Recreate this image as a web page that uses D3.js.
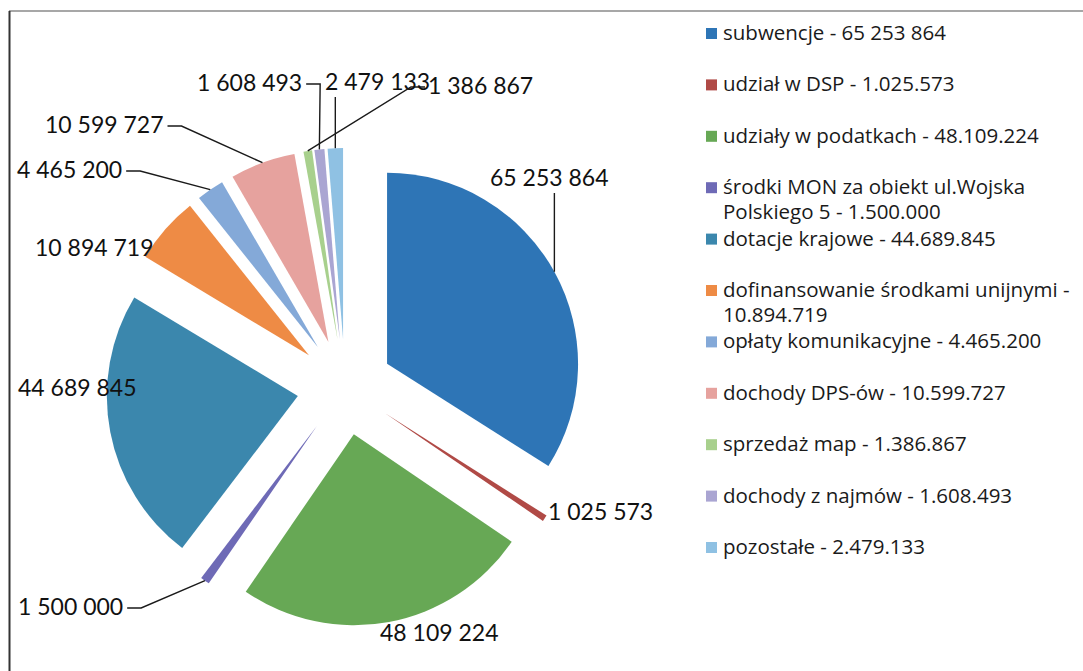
<!DOCTYPE html>
<html>
<head>
<meta charset="utf-8">
<script src="https://cdn.jsdelivr.net/npm/d3@7"></script>
<style>
  body { margin: 0; background: #fff; }
  svg { display: block; }
</style>
</head>
<body>
<svg id="chart"></svg>
<script>
// data
const categories = [
    'subwencje', 'udział w DSP', 'udziały w podatkach', 'środki MON za obiekt ul.Wojska Polskiego 5',
    'dotacje krajowe', 'dofinansowanie środkami unijnymi', 'opłaty komunikacyjne', 'dochody DPS-ów',
    'sprzedaż map', 'dochody z najmów', 'pozostałe'
]
const values = [65253864, 1025573, 48109224, 1500000, 44689845, 10894719, 4465200, 10599727, 1386867, 1608493, 2479133]
// legend entries as printed (line breaks as in the picture)
const legendTexts = [
    ['subwencje - 65 253 864'],
    ['udział w DSP - 1.025.573'],
    ['udziały w podatkach - 48.109.224'],
    ['środki MON za obiekt ul.Wojska', 'Polskiego 5 - 1.500.000'],
    ['dotacje krajowe - 44.689.845'],
    ['dofinansowanie środkami unijnymi -', '10.894.719'],
    ['opłaty komunikacyjne - 4.465.200'],
    ['dochody DPS-ów - 10.599.727'],
    ['sprzedaż map - 1.386.867'],
    ['dochody z najmów - 1.608.493'],
    ['pozostałe - 2.479.133']
]
const colors = ['#2e75b6', '#b04a46', '#67a855', '#6e6ab6', '#3b87ad', '#ee8b45',
    '#84a9d8', '#e6a29e', '#a8d08d', '#aaa5d2', '#8fc1e3']

// where the data labels sit: left x, baseline y, leader attachment
const labelLayout = [
    [490, 186, 'below'], [548, 520, null], [380, 641, null], [18, 615, 'right'],
    [18, 396, null], [35, 256, null], [17, 178, 'right'], [45, 133, 'right'],
    [428, 94, 'left'], [197, 91, 'right'], [325, 90, 'below']
]

const width = 1083, height = 671
const cx = 345, cy = 387, radius = 191, explode = 48

const svg = d3.select('#chart').attr('width', width).attr('height', height)

// frame of the chart area (cropped)
svg.append('line').attr('x1', 9).attr('x2', width).attr('y1', 11).attr('y2', 11)
    .attr('stroke', '#8a8a8a').attr('stroke-width', 1.5)
svg.append('line').attr('x1', 9.5).attr('x2', 9.5).attr('y1', 11).attr('y2', height)
    .attr('stroke', '#333').attr('stroke-width', 2)

const pie = d3.pie().sort(null).value(d => d)
const arcs = pie(values)
const arc = d3.arc().innerRadius(0).outerRadius(radius)

function dir(a) { return [Math.sin(a), -Math.cos(a)] }

const g = svg.append('g').attr('transform', `translate(${cx}, ${cy})`)
g.selectAll('path.slice').data(arcs).enter().append('path')
    .classed('slice', true)
    .attr('d', arc)
    .attr('fill', (d, i) => colors[i])
    .attr('transform', d => {
        const m = dir((d.startAngle + d.endAngle) / 2)
        return `translate(${m[0] * explode}, ${m[1] * explode})`
    })

// data labels
const fmt = d3.formatLocale({ decimal: ',', thousands: ' ', grouping: [3] }).format(',d')
const line = d3.line()

arcs.forEach((d, i) => {
    const [lx, ly, side] = labelLayout[i]
    const t = svg.append('text')
        .attr('x', lx).attr('y', ly)
        .attr('font-family', 'Lato, sans-serif')
        .attr('font-size', 23)
        .attr('fill', '#111')
        .text(fmt(values[i]))
    if (!side) return

    const b = t.node().getBBox()
    const m = dir((d.startAngle + d.endAngle) / 2)
    const p = [cx + m[0] * (explode + radius), cy + m[1] * (explode + radius)]
    const midY = ly - 7
    let pts
    if (side === 'below') {
        pts = [[p[0], b.y + b.height + 2], p]
    } else if (side === 'right') {
        const e = b.x + b.width + 4
        pts = [[e, midY], [e + 14, midY], p]
    } else {
        const e = b.x - 3
        pts = [[e, midY], [e - 14, midY], p]
    }
    svg.append('path')
        .attr('d', line(pts))
        .attr('fill', 'none')
        .attr('stroke', '#1a1a1a')
        .attr('stroke-width', 1.4)
})

// legend
const legend = svg.append('g').attr('transform', 'translate(706, 33)')
const item = legend.selectAll('g').data(legendTexts).enter().append('g')
    .attr('transform', (d, i) => `translate(0, ${i * 51.4})`)
item.append('rect')
    .attr('x', 0).attr('y', -5).attr('width', 11).attr('height', 11)
    .attr('fill', (d, i) => colors[i])
item.each(function(d) {
    const txt = d3.select(this).append('text')
        .attr('font-family', "'Open Sans', sans-serif")
        .attr('font-size', 20.5)
        .attr('fill', '#1a1a1a')
    d.forEach((s, k) => {
        txt.append('tspan').attr('x', 17).attr('y', 7 + k * 25).text(s)
    })
})
</script>
</body>
</html>
